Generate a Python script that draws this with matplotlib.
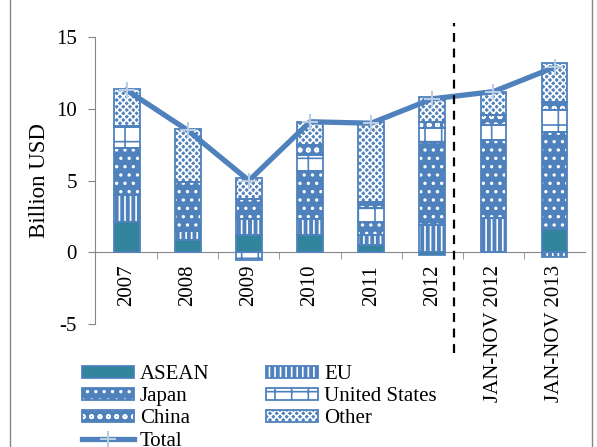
import numpy as np
import matplotlib
matplotlib.use("Agg")
import matplotlib.pyplot as plt
from matplotlib.patches import Rectangle

plt.rcParams['font.family'] = ['Liberation Serif', 'DejaVu Serif']
plt.rcParams['hatch.linewidth'] = 1.2
plt.rcParams['axes.unicode_minus'] = False

years = ['2007', '2008', '2009', '2010', '2011', '2012', 'JAN-NOV 2012', 'JAN-NOV 2013']
asean = [2.1, 0.85, 1.2, 1.2, 0.5, -0.2, 0.0, 1.65]
eu = [1.9, 0.65, 1.15, 1.15, 0.7, 1.9, 2.4, -0.35]
japan = [3.3, 3.4, 1.35, 3.35, 0.9, 5.8, 5.4, 6.75]
us = [1.4, 0.0, -0.55, 1.1, 1.0, 0.95, 1.1, 1.5]
china = [0.1, 0.0, 0.0, 0.7, 0.4, 0.45, 0.65, 0.55]
other = [2.6, 3.7, 1.5, 1.6, 5.6, 1.7, 1.65, 2.75]
total = [11.3, 8.5, 5.0, 9.1, 9.0, 10.7, 11.2, 12.9]

blue = '#4F81BD'
teal = '#31849B'
grey = '#868686'

series = [
    ('ASEAN', asean, teal, teal, None),
    ('EU', eu, blue, 'white', '|||'),
    ('Japan', japan, blue, 'white', '..'),
    ('United States', us, 'white', blue, '+'),
    ('China', china, blue, 'white', 'oo'),
    ('Other', other, blue, 'white', 'xxxxx'),
]

fig = plt.figure(figsize=(5.97, 4.47), dpi=100)
ax = fig.add_axes([0.159, 0.275, 0.821, 0.642])

x = np.arange(len(years))
w = 0.42
pos = np.zeros(len(years))
neg = np.zeros(len(years))
handles = {}
for name, vals, face, hc, hatch in series:
    vals = np.array(vals)
    bottom = np.where(vals >= 0, pos, neg)
    b1 = ax.bar(x, vals, w, bottom=bottom, color=face, edgecolor=hc,
                hatch=hatch, linewidth=0, zorder=2)
    b2 = ax.bar(x, vals, w, bottom=bottom, fill=False, edgecolor=blue,
                linewidth=1.3, zorder=3)
    pos = pos + np.where(vals >= 0, vals, 0)
    neg = neg + np.where(vals < 0, vals, 0)
    handles[name] = (b1.patches[0], b2.patches[0])

ln, = ax.plot(x, total, color=blue, lw=3.8, marker='+', ms=11,
              mec='#B9CDE5', mew=1.5, zorder=5)

ax.set_xlim(-0.52, 7.5)
ax.set_ylim(-5, 15)
ax.set_yticks([-5, 0, 5, 10, 15])
ax.tick_params(axis='y', direction='out', length=5, color=grey, labelsize=15, pad=8)
ax.set_xticks(x)
ax.set_xticklabels(years)
ax.set_xticks(x[:-1] + 0.5, minor=True)
ax.tick_params(axis='x', which='major', length=0, pad=9, labelsize=15,
               labelrotation=90)
ax.tick_params(axis='x', which='minor', direction='out', length=5, color=grey)
ax.spines['bottom'].set_position(('data', 0))
for s in ['top', 'right']:
    ax.spines[s].set_visible(False)
for s in ['left', 'bottom']:
    ax.spines[s].set_color(grey)
ax.set_ylabel('Billion USD', fontsize=16.5, labelpad=4)

# dashed separator between years and Jan-Nov periods
ax.plot([5.35, 5.35], [-7.0, 16.0], color='black', lw=1.6, ls=(0, (4, 3)),
        clip_on=False, zorder=6)

hl = [handles['ASEAN'], handles['Japan'], handles['China'], ln,
      handles['EU'], handles['United States'], handles['Other']]
lab = ['ASEAN', 'Japan', 'China', 'Total', 'EU', 'United States', 'Other']
fig.legend(hl, lab, ncol=2, loc='upper left', bbox_to_anchor=(0.137, 0.183),
           frameon=False, fontsize=15, handlelength=2.5, handleheight=0.55,
           labelspacing=0.15, columnspacing=2.7, handletextpad=0.3,
           borderaxespad=0, borderpad=0)

fig.patches.append(Rectangle((10 / 597, -0.1), (592 - 10) / 597, 1.3,
                             transform=fig.transFigure, fill=False,
                             edgecolor=grey, lw=1.0))

fig.savefig('out.png', dpi=100)
